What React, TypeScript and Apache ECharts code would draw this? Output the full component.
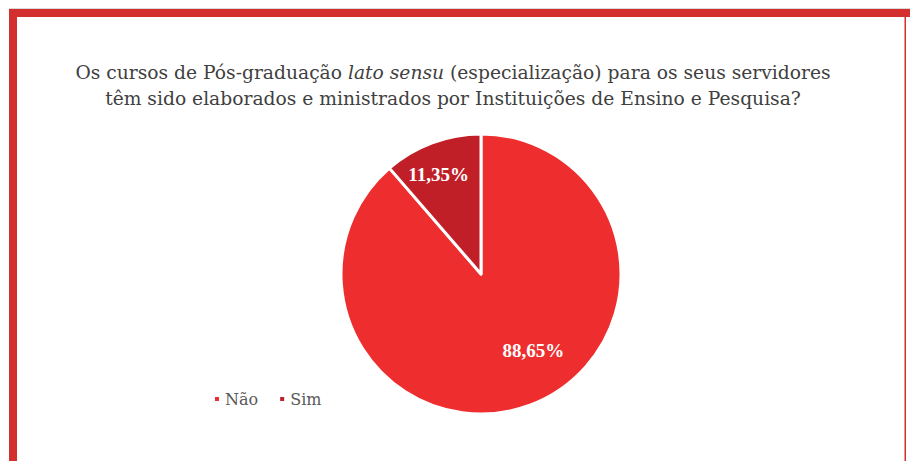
import React, { useEffect, useRef } from "react";
import * as echarts from "echarts";

const categories = ["Não", "Sim"];
const values = [88.65, 11.35];
const colors = ["#EE2E2E", "#C01F27"];
const labelOffsets: [number, number][] = [[27, 8], [-17, -31]];
const titleLine1a = "Os cursos de Pós-graduação ";
const titleItalic = "lato sensu";
const titleLine1b = " (especialização) para os seus servidores";
const titleLine2 = "têm sido elaborados e ministrados por Instituições de Ensino e Pesquisa?";

export default function App() {
  const ref = useRef<HTMLDivElement>(null);
  useEffect(() => {
    if (!ref.current) return;
    const chart = echarts.init(ref.current, undefined, { renderer: "svg" });
    const serif = "Liberation Serif";
    const wide = "DejaVu Serif";
    chart.setOption({
      animation: false,
      backgroundColor: "#ffffff",
      title: {
        left: 448,
        textAlign: "center",
        top: 54,
        text:
          "{a|" + titleLine1a + "}{i|" + titleItalic + "}{a|" + titleLine1b + "}\n{a|" + titleLine2 + "}",
        textStyle: {
          fontFamily: wide,
          fontWeight: "normal",
          fontSize: 18.7,
          color: "#404040",
          rich: {
            a: { fontFamily: wide, fontWeight: "normal", fontSize: 18.7, color: "#404040", lineHeight: 26 },
            i: { fontFamily: wide, fontWeight: "normal", fontSize: 18.7, color: "#404040", lineHeight: 26, fontStyle: "italic" },
          },
        },
      },
      legend: {
        left: 208,
        top: 386,
        itemWidth: 6,
        itemHeight: 6,
        itemGap: 20,
        icon: "rect",
        data: categories,
        textStyle: { fontFamily: wide, fontSize: 16, color: "#595959" },
      },
      graphic: [
        { type: "rect", shape: { x: 9, y: 8, width: 901, height: 1 }, style: { fill: "#d9d9d9" } },
        { type: "rect", shape: { x: 9, y: 9, width: 901, height: 8 }, style: { fill: "#D32F2F" } },
        { type: "rect", shape: { x: 9, y: 9, width: 8, height: 452 }, style: { fill: "#D32F2F" } },
        { type: "rect", shape: { x: 904.5, y: 17, width: 1.5, height: 444 }, style: { fill: "#D32F2F" } },
      ],
      series: [
        {
          type: "pie",
          center: [481, 274],
          radius: [0, 140],
          startAngle: 90,
          clockwise: true,
          itemStyle: { borderColor: "#ffffff", borderWidth: 3 },
          label: {
            show: true,
            position: "inside",
            formatter: (p: any) => p.value.toFixed(2).replace(".", ",") + "%",
            fontFamily: serif,
            fontSize: 19,
            fontWeight: "bold",
            color: "#ffffff",
          },
          labelLine: { show: false },
          emphasis: { disabled: true },
          data: categories.map((name, i) => ({
            name,
            value: values[i],
            itemStyle: { color: colors[i] },
            label: { offset: labelOffsets[i] },
          })),
        },
      ],
    });
    return () => chart.dispose();
  }, []);
  return (
    <div
      ref={ref}
      style={{ position: "fixed", left: 0, top: 0, width: 910, height: 461 }}
    />
  );
}
